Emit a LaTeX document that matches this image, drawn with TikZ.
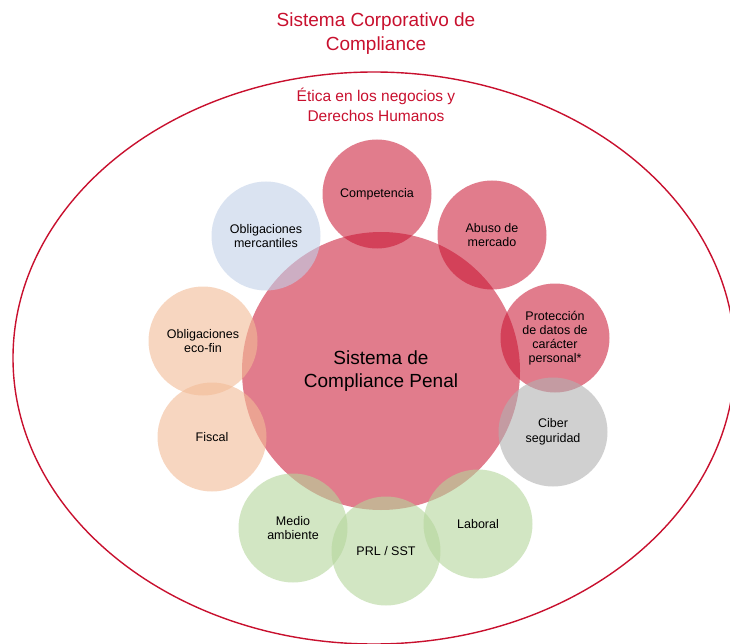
\documentclass[tikz,border=0pt]{standalone}
\usepackage{fontspec}
\usetikzlibrary{shapes.geometric}
\setmainfont{Liberation Sans}
\definecolor{cred}{RGB}{200,16,46}
\definecolor{credfill}{RGB}{200,16,46}
\definecolor{cblue}{RGB}{193,208,232}
\definecolor{cpeach}{RGB}{242,187,150}
\definecolor{cgrey}{RGB}{177,177,177}
\definecolor{cgreen}{RGB}{180,213,155}
\begin{document}
\begin{tikzpicture}[x=1pt,y=-1pt,
  bub/.style={circle,minimum size=109pt,inner sep=0pt,fill opacity=0.55,text opacity=1,align=center,
    font=\fontsize{12.5}{14.5}\selectfont,text=black},
  redbub/.style={bub,fill=credfill},
  bluebub/.style={bub,fill=cblue,fill opacity=0.6},
  peachbub/.style={bub,fill=cpeach,fill opacity=0.6},
  greybub/.style={bub,fill=cgrey,fill opacity=0.6},
  greenbub/.style={bub,fill=cgreen,fill opacity=0.6},
  heading/.style={align=center,text=cred,inner sep=0pt}]
\useasboundingbox (0,0) rectangle (730,644);
\clip (0,0) rectangle (730,644);
\node[draw=cred,line width=1.4pt,ellipse,minimum width=722pt,minimum height=572pt,inner sep=0pt] (outer) at (374,358) {};
\node[heading,font=\fontsize{19}{24}\selectfont] (title) at (376,34) {Sistema Corporativo de\\Compliance};
\node[heading,font=\fontsize{15.5}{20}\selectfont] (etica) at (376,105) {Ética en los negocios y\\Derechos Humanos};
% main
\node[redbub,minimum size=278pt,font=\fontsize{19}{23}\selectfont] (main) at (381,371) {Sistema de\\Compliance Penal};
\node[redbub] (comp) at (377,194) {Competencia};
\node[redbub] (abuso) at (492,235) {Abuso de\\mercado};
\node[redbub,font=\fontsize{12.5}{14}\selectfont] (prot) at (555,338) {Protección\\de datos de\\carácter\\personal*};
\node[greybub] (ciber) at (553,432) {Ciber\\seguridad};
\node[greenbub] (laboral) at (478,524) {Laboral};
\node[greenbub] (prl) at (386,551) {PRL / SST};
\node[greenbub] (medio) at (293,528) {Medio\\ambiente};
\node[peachbub] (fiscal) at (212,437) {Fiscal};
\node[peachbub] (ecofin) at (203,341) {Obligaciones\\eco-fin};
\node[bluebub] (merc) at (266,236) {Obligaciones\\mercantiles};
\end{tikzpicture}
\end{document}
